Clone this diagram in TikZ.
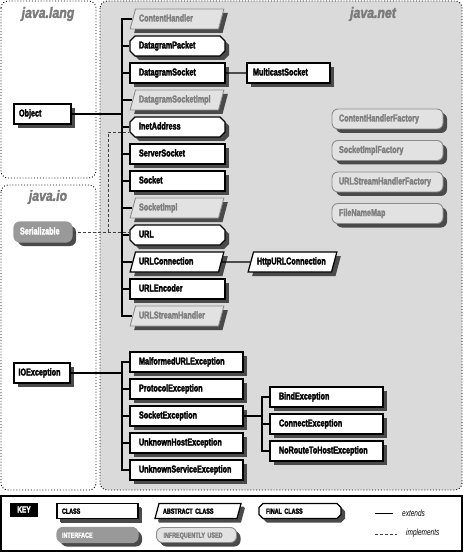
\documentclass[tikz,border=0pt]{standalone}
\usepackage{fontspec}
\usepackage{tikz}
\usetikzlibrary{shapes.geometric,shapes.misc,shadows}

\newfontfamily\boxfont[FakeStretch=0.72, FakeBold=2.5]{Liberation Sans}
\newfontfamily\titlefont[FakeStretch=0.82, FakeBold=2]{Liberation Sans}
\newfontfamily\legendfont[FakeStretch=0.72]{Liberation Sans}
\newcommand{\nodesize}{\fontsize{10pt}{11pt}\selectfont}
\newcommand{\keysize}{\fontsize{7.5pt}{8pt}\selectfont}

\definecolor{pkgfill}{HTML}{DADADA}
\definecolor{rarefill}{HTML}{E2E2E2}
\definecolor{raretext}{HTML}{7F7F7F}
\definecolor{ifacefill}{HTML}{999999}
\definecolor{shade}{HTML}{4A4A4A}

\tikzset{
  box/.style={draw, fill=white, line width=1.2pt, align=left,
    font=\boxfont\bfseries\nodesize, text height=7pt, text depth=2pt,
    inner ysep=5.5pt,
    drop shadow={shadow xshift=4pt, shadow yshift=-4pt, fill=shade, opacity=1}},
  cls/.style={box, rectangle, inner xsep=9pt, text width=#1},
  cls/.default=77pt,
  abs/.style={box, trapezium, trapezium left angle=75, trapezium right angle=105,
    inner xsep=3.5pt, text width=#1},
  abs/.default=76pt,
  fin/.style={box, chamfered rectangle, chamfered rectangle angle=45,
    chamfered rectangle xsep=2.5pt, chamfered rectangle ysep=2.5pt,
    inner xsep=6.5pt, inner ysep=3pt, text width=#1},
  fin/.default=77pt,
  iface/.style={box, rectangle, rounded corners=6pt, inner xsep=6pt,
    fill=ifacefill, draw=ifacefill, text=white, text width=#1},
  iface/.default=46pt,
  rare/.style={fill=rarefill, draw=black!45, text=raretext, line width=0.9pt},
  rareface/.style={box, rectangle, rounded corners=6pt, inner xsep=7pt,
    rare, text width=#1},
  rareface/.default=97pt,
  keysmall/.style={font=\boxfont\bfseries\keysize, text height=5.5pt, text depth=0pt,
    inner ysep=4.75pt, drop shadow={shadow xshift=3pt, shadow yshift=-3pt, fill=shade, opacity=1}},
  ext/.style={line width=1.2pt},
  impl/.style={dashed, dash pattern=on 3pt off 2pt, line width=0.8pt, draw=black!75},
  pkg/.style={dotted, line width=0.9pt, rounded corners=7pt},
  pkgtitle/.style={font=\titlefont\bfseries\itshape\fontsize{15pt}{17pt}\selectfont,
    text=black!52},
  legend/.style={font=\legendfont\itshape\fontsize{9pt}{10pt}\selectfont, inner sep=0pt},
}

\begin{document}
\begin{tikzpicture}[x=1pt, y=-1pt]
\useasboundingbox (0,0) rectangle (464,553);

% packages
\draw[pkg] (1,1) rectangle (96,178);
\draw[pkg] (1,185) rectangle (96,490);
\draw[pkg, fill=pkgfill] (100,1) rectangle (462,490);
\node[pkgtitle] (tlang) at (48,14) {java.lang};
\node[pkgtitle] (tio) at (48,197) {java.io};
\node[pkgtitle] (tnet) at (373,14) {java.net};

% java.lang and java.io
\node[cls=47pt, inner xsep=5pt] (obj) at (42.5,114) {Object};
\node[iface] (ser) at (43,232) {Serializable};
\node[cls=47pt, inner xsep=4.5pt] (ioe) at (42,373) {IOException};

% java.net, subclasses of Object
\node[abs, rare] (ch) at (177,19) {ContentHandler};
\node[fin] (dgp) at (177.5,46) {DatagramPacket};
\node[cls] (dgs) at (177.5,73) {DatagramSocket};
\node[abs, rare] (dgsi) at (177,100) {DatagramSocketImpl};
\node[fin] (ia) at (177.5,127) {InetAddress};
\node[cls] (ss) at (177.5,154) {ServerSocket};
\node[cls] (sock) at (177.5,181) {Socket};
\node[abs, rare] (si) at (177,208) {SocketImpl};
\node[fin] (url) at (177.5,235) {URL};
\node[abs] (urlc) at (177,262) {URLConnection};
\node[cls] (urle) at (177.5,289) {URLEncoder};
\node[abs, rare] (ush) at (177,316) {URLStreamHandler};

\node[cls=71pt, inner xsep=6pt] (mcs) at (288.5,73) {MulticastSocket};
\node[abs=71pt] (http) at (292.5,262) {HttpURLConnection};

% interfaces
\node[rareface] (chf) at (387.5,119) {ContentHandlerFactory};
\node[rareface] (sif) at (387.5,150.5) {SocketImplFactory};
\node[rareface] (ushf) at (387.5,182) {URLStreamHandlerFactory};
\node[rareface] (fnm) at (387.5,213.5) {FileNameMap};

% exceptions
\node[cls=95pt] (mue) at (186.5,362) {MalformedURLException};
\node[cls=95pt] (pe) at (186.5,389) {ProtocolException};
\node[cls=95pt] (sexc) at (186.5,416) {SocketException};
\node[cls=95pt] (uhe) at (186.5,443) {UnknownHostException};
\node[cls=95pt] (use) at (186.5,470) {UnknownServiceException};
\node[cls=95pt] (be) at (326.5,397) {BindException};
\node[cls=95pt] (ce) at (326.5,424) {ConnectException};
\node[cls=95pt] (nrth) at (326.5,451) {NoRouteToHostException};

\coordinate (trunk) at (122,0);
\coordinate (strunk) at (262,0);
\coordinate (ibr) at (108,0);

% extends
\draw[ext] (ch.west) -| (trunk |- ush.west) -- (ush.west)
  (obj.east) -- (obj.east -| trunk)
  (trunk |- dgp.west) -- (dgp.west)
  (trunk |- dgs.west) -- (dgs.west)
  (trunk |- dgsi.west) -- (dgsi.west)
  (trunk |- ia.west) -- (ia.west)
  (trunk |- ss.west) -- (ss.west)
  (trunk |- sock.west) -- (sock.west)
  (trunk |- si.west) -- (si.west)
  (trunk |- url.west) -- (url.west)
  (trunk |- urlc.west) -- (urlc.west)
  (trunk |- urle.west) -- (urle.west);
\draw[ext] (dgs.east) -- (mcs.west)
  (urlc.east) -- (http.west);
\draw[ext] (mue.west) -| (trunk |- use.west) -- (use.west)
  (ioe.east) -- (ioe.east -| trunk)
  (trunk |- pe.west) -- (pe.west)
  (trunk |- sexc.west) -- (sexc.west)
  (trunk |- uhe.west) -- (uhe.west);
\draw[ext] (be.west) -| (strunk |- nrth.west) -- (nrth.west)
  (sexc.east) -- (sexc.east -| strunk)
  (strunk |- ce.west) -- (ce.west);

% implements
\draw[impl] (ser.east) -- (ser.east -| url.west);
\draw[impl] (ser.east -| ibr) |- ([yshift=-5pt]ia.west);

% key
\draw[line width=1.5pt, fill=white] (1,496) rectangle (462,551);
\node[fill=black, text=white, font=\boxfont\bfseries\fontsize{9pt}{10pt}\selectfont,
  minimum width=28pt, minimum height=14pt, inner sep=0pt] (key) at (24,509.5) {KEY};
\node[cls=71pt, inner xsep=5pt, keysmall] (kcls) at (97.5,511) {CLASS};
\node[abs=70pt, inner xsep=4pt, keysmall] (kabs) at (198,511) {ABSTRACT CLASS};
\node[fin=68pt, keysmall, inner xsep=5pt, inner ysep=2.75pt,
  chamfered rectangle xsep=2pt, chamfered rectangle ysep=2pt] (kfin) at (300,511) {FINAL CLASS};
\node[iface=71pt, inner xsep=5pt, keysmall] (kif) at (97.5,535) {INTERFACE};
\node[rareface=66pt, keysmall] (krare) at (196.5,535) {INFREQUENTLY USED};
\coordinate (extA) at (375,513.5);
\coordinate (extB) at (393,513.5);
\coordinate (impA) at (375,534);
\coordinate (impB) at (397,534);
\draw[ext] (extA) -- (extB);
\draw[impl] (impA) -- (impB);
\node[legend, anchor=west] (lext) at (402,513) {extends};
\node[legend, anchor=west] (limp) at (406,533.5) {implements};
\end{tikzpicture}
\end{document}
